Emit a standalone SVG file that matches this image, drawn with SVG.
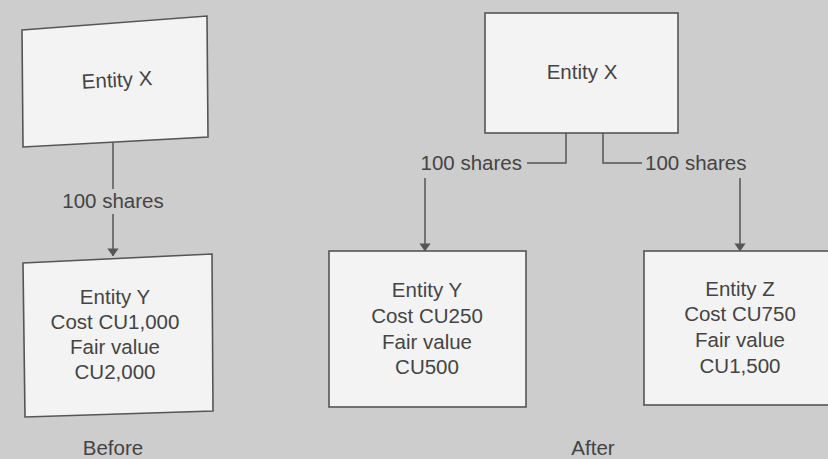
<svg xmlns="http://www.w3.org/2000/svg" width="828" height="459" viewBox="0 0 828 459">
<defs>
<style>
.box{fill:#f3f3f3;stroke:#555;stroke-width:1.6}
.t{font-family:"Liberation Sans",Arial,sans-serif;font-size:20.5px;fill:#444;text-anchor:middle}
.c{fill:none;stroke:#555;stroke-width:1.5}
</style>
<marker id="ah" viewBox="0 0 10 14" refX="9.5" refY="7" markerWidth="8" markerHeight="13" markerUnits="userSpaceOnUse" orient="auto">
<path d="M0,0 L10,7 L0,14 Z" fill="#555"/>
</marker>
</defs>
<rect x="0" y="0" width="828" height="459" fill="#cdcdcd"/>

<g id="connectors">
<line class="c" x1="113" y1="142" x2="113" y2="189"/>
<line class="c" x1="113" y1="214" x2="113" y2="256" marker-end="url(#ah)"/>
<polyline class="c" points="566,133 566,163 527,163"/>
<polyline class="c" points="603,133 603,163 642,163"/>
<line class="c" x1="425" y1="178" x2="425" y2="251" marker-end="url(#ah)"/>
<line class="c" x1="740" y1="178" x2="740" y2="251" marker-end="url(#ah)"/>
<text class="t" x="113" y="208">100 shares</text>
<text class="t" x="522" y="170" style="text-anchor:end">100 shares</text>
<text class="t" x="645" y="170" style="text-anchor:start">100 shares</text>
</g>

<g id="before-entity-x">
<polygon class="box" points="22,30 207,16 208,137 23,147"/>
<text class="t" x="117" y="87" transform="rotate(-3 117 80)">Entity X</text>
</g>

<g id="before-entity-y">
<polygon class="box" points="23,263 212,254 213,411 25,417"/>
<text class="t" x="115" y="304">Entity Y</text>
<text class="t" x="115" y="329">Cost CU1,000</text>
<text class="t" x="115" y="354">Fair value</text>
<text class="t" x="115" y="379">CU2,000</text>
</g>

<g id="after-entity-x">
<rect class="box" x="485" y="13" width="193" height="120"/>
<text class="t" x="582" y="79">Entity X</text>
</g>

<g id="after-entity-y">
<rect class="box" x="329" y="251" width="197" height="156"/>
<text class="t" x="427" y="297">Entity Y</text>
<text class="t" x="427" y="323">Cost CU250</text>
<text class="t" x="427" y="349">Fair value</text>
<text class="t" x="427" y="374">CU500</text>
</g>

<g id="after-entity-z">
<rect class="box" x="644" y="251" width="192" height="154"/>
<text class="t" x="740" y="296">Entity Z</text>
<text class="t" x="740" y="321">Cost CU750</text>
<text class="t" x="740" y="347">Fair value</text>
<text class="t" x="740" y="373">CU1,500</text>
</g>

<g id="captions">
<text class="t" x="113" y="455">Before</text>
<text class="t" x="593" y="455">After</text>
</g>
</svg>
